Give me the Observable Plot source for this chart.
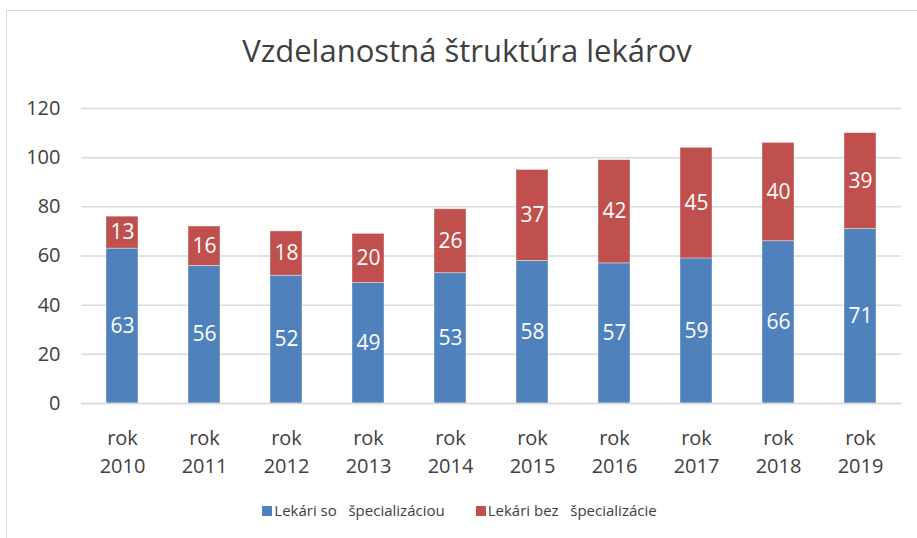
<!DOCTYPE html>
<html>
<head>
<meta charset="utf-8">
<script src="https://cdn.jsdelivr.net/npm/d3@7"></script>
<script src="https://cdn.jsdelivr.net/npm/@observablehq/plot@0.6"></script>
<style>
  html, body { margin: 0; padding: 0; background: #fff; }
  #wrap { position: relative; width: 917px; height: 538px; overflow: hidden; font-family: "Open Sans", sans-serif; color: #404040; }
  #frame { position: absolute; left: 6px; top: 10px; width: 920px; height: 540px; border-left: 1.5px solid #d9d9d9; border-top: 1.5px solid #d9d9d9; }
  #title { position: absolute; left: 7px; width: 920px; top: 35px; text-align: center; font-size: 31px; line-height: 31px; color: #404040; }
  #chart { position: absolute; left: 0; top: 90px; }
  #legend { position: absolute; left: 0; width: 919px; top: 503px; display: flex; justify-content: center; gap: 31px; font-size: 15px; line-height: 15px; color: #404040; }
  .item { display: flex; align-items: center; white-space: pre; }
  .sw { width: 10px; height: 10px; margin-right: 2px; }
</style>
</head>
<body>
<div id="wrap">
  <div id="frame"></div>
  <div id="title"></div>
  <div id="chart"></div>
  <div id="legend"></div>
</div>
<script>
const title = "Vzdelanostná štruktúra lekárov";
const years = ["2010","2011","2012","2013","2014","2015","2016","2017","2018","2019"];
const seriesNames = ["Lekári so   špecializáciou", "Lekári bez   špecializácie"];
const seriesColors = ["#4F81BD", "#C0504D"];
const withSpec = [63, 56, 52, 49, 53, 58, 57, 59, 66, 71];
const withoutSpec = [13, 16, 18, 20, 26, 37, 42, 45, 40, 39];
const yTicks = [0, 20, 40, 60, 80, 100, 120];

const data = [];
years.forEach((y, i) => {
  data.push({year: y, series: seriesNames[0], value: withSpec[i]});
  data.push({year: y, series: seriesNames[1], value: withoutSpec[i]});
});

document.getElementById("title").textContent = title;

const chart = Plot.plot({
  width: 917,
  height: 400,
  marginTop: 18,
  marginBottom: 87,
  marginLeft: 81,
  marginRight: 16,
  style: {fontFamily: "Open Sans, sans-serif", fontSize: "20px", color: "#404040", background: "transparent"},
  x: {domain: years, paddingInner: 0.61, paddingOuter: 0.305, label: null},
  y: {domain: [0, 120], label: null},
  color: {domain: seriesNames, range: seriesColors},
  marks: [
    Plot.gridY(yTicks, {stroke: "#d9d9d9", strokeOpacity: 1, strokeWidth: 1.5}),
    Plot.axisY(yTicks, {tickSize: 0, tickPadding: 21, fontSize: 20, label: null, fill: "#404040"}),
    Plot.axisX({tickSize: 0, tickPadding: 22, fontSize: 20, lineHeight: 1.4, label: null, fill: "#404040",
      tickFormat: d => `rok\n${d}`}),
    Plot.barY(data, {x: "year", y: "value", fill: "series", stroke: "#ffffff", strokeOpacity: 0.5, strokeWidth: 0.75}),
    Plot.ruleY([0], {stroke: "#d9d9d9", strokeWidth: 1.5}),
    Plot.text(data, Plot.stackY({x: "year", y: "value", z: "series", text: d => String(d.value), fill: "#ffffff", fontSize: 21}))
  ]
});
document.getElementById("chart").appendChild(chart);

const legend = document.getElementById("legend");
seriesNames.forEach((n, i) => {
  const it = document.createElement("div");
  it.className = "item";
  const sw = document.createElement("div");
  sw.className = "sw";
  sw.style.background = seriesColors[i];
  const t = document.createElement("span");
  t.textContent = n;
  it.appendChild(sw);
  it.appendChild(t);
  legend.appendChild(it);
});
</script>
</body>
</html>
